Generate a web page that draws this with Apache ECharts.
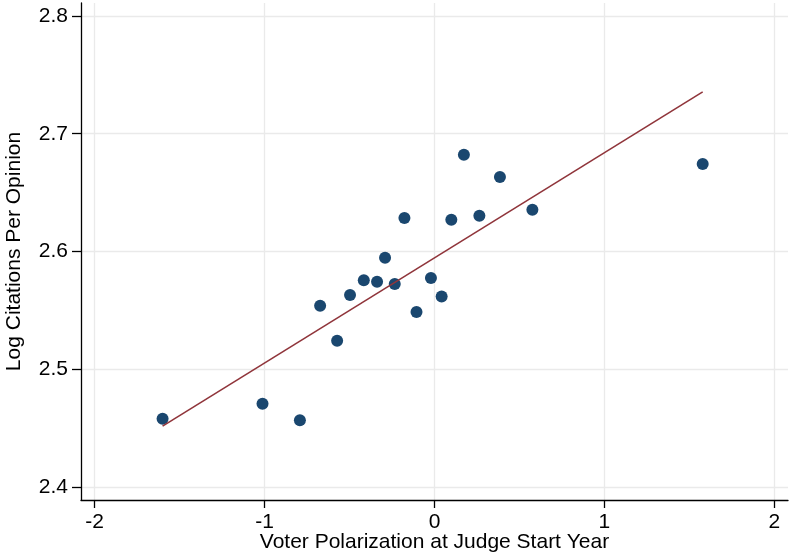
<!DOCTYPE html>
<html>
<head>
<meta charset="utf-8">
<script src="https://cdn.jsdelivr.net/npm/echarts@6/dist/echarts.min.js"></script>
<style>html,body{margin:0;padding:0;background:#fff}#c{width:789px;height:557px}</style>
</head>
<body>
<div id="c"></div>
<script>
const xVals = [-1.600, -1.012, -0.792, -0.673, -0.573, -0.497, -0.416, -0.338, -0.291, -0.234, -0.177, -0.106, -0.021, 0.042, 0.099, 0.173, 0.264, 0.385, 0.576, 1.578];
const yVals = [2.4579, 2.4707, 2.4568, 2.5540, 2.5243, 2.5631, 2.5756, 2.5744, 2.5947, 2.5724, 2.6284, 2.5487, 2.5775, 2.5617, 2.6270, 2.6821, 2.6304, 2.6632, 2.6355, 2.6742];
const fitX = [-1.600, 1.578];
const fitY = [2.4517, 2.7355];
const xTicks = [-2, -1, 0, 1, 2];
const yTicks = [2.4, 2.5, 2.6, 2.7, 2.8];
const xTitle = 'Voter Polarization at Judge Start Year';
const yTitle = 'Log Citations Per Opinion';

const font = '"Liberation Sans", Arial, sans-serif';
const chart = echarts.init(document.getElementById('c'), null, {renderer: 'canvas'});
chart.setOption({
  animation: false,
  backgroundColor: '#ffffff',
  grid: {left: 81, right: 1, top: 3, bottom: 57, containLabel: false, outerBoundsMode: 'none'},
  xAxis: {
    type: 'value', min: -2.08, max: 2.08,
    name: xTitle, nameLocation: 'middle', nameGap: 32, nameMoveOverlap: false,
    nameTextStyle: {fontFamily: font, fontSize: 21, color: '#000'},
    axisLine: {show: true, onZero: false, lineStyle: {color: '#000', width: 1.3}},
    axisTick: {show: true, length: 8, customValues: xTicks, lineStyle: {color: '#000', width: 1.3}},
    axisLabel: {customValues: xTicks, fontFamily: font, fontSize: 21, color: '#000', margin: 12,
      formatter: v => String(Math.round(v))},
    splitLine: {show: true, lineStyle: {color: '#eaeaea', width: 1.3}}
  },
  yAxis: {
    type: 'value', min: 2.389, max: 2.811,
    name: yTitle, nameLocation: 'middle', nameGap: 56, nameRotate: 90, nameMoveOverlap: false,
    nameTextStyle: {fontFamily: font, fontSize: 21, color: '#000'},
    axisLine: {show: true, onZero: false, lineStyle: {color: '#000', width: 1.3}},
    axisTick: {show: true, length: 9, customValues: yTicks, lineStyle: {color: '#000', width: 1.3}},
    axisLabel: {customValues: yTicks, fontFamily: font, fontSize: 21, color: '#000', margin: 13,
      formatter: v => v.toFixed(1)},
    splitLine: {show: true, lineStyle: {color: '#eaeaea', width: 1.3}}
  },
  series: [
    {
      type: 'scatter',
      data: xVals.map((x, i) => [x, yVals[i]]),
      symbol: 'circle', symbolSize: 12,
      itemStyle: {color: '#1a476f', opacity: 1},
      z: 2
    },
    {
      type: 'line',
      data: fitX.map((x, i) => [x, fitY[i]]),
      symbol: 'none',
      lineStyle: {color: '#90353b', width: 1.6},
      z: 3
    }
  ]
});
</script>
</body>
</html>
